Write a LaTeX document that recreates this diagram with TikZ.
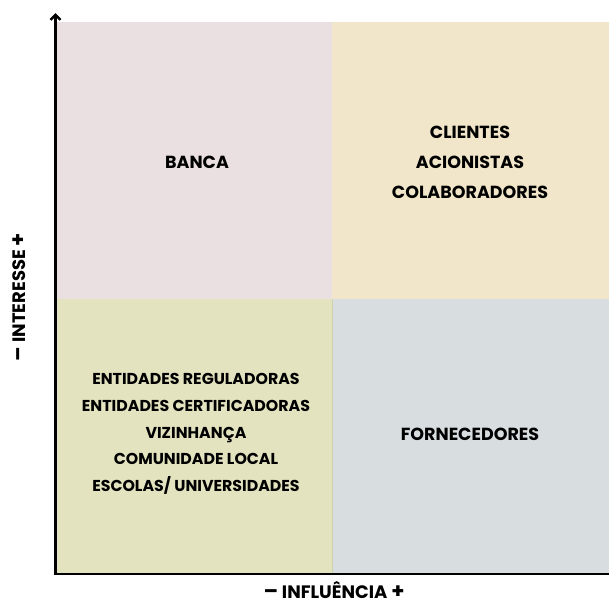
\documentclass[tikz,border=0pt]{standalone}
\usepackage{fontspec}
\setmainfont{Poppins}
\usetikzlibrary{arrows.meta}
\definecolor{qpink}{RGB}{235,224,225}
\definecolor{qyellow}{RGB}{241,230,201}
\definecolor{qgreen}{RGB}{227,227,191}
\definecolor{qgray}{RGB}{216,221,224}
\definecolor{qline}{RGB}{205,210,170}
\tikzset{
  lbl/.style={font=\fontsize{17.5}{30}\selectfont\bfseries, align=center, text=black, inner sep=0pt},
  lblsmall/.style={font=\fontsize{15.8}{26.8}\selectfont\bfseries, align=center, text=black, inner sep=0pt},
  axis/.style={line width=2.5pt, black},
  axlbl/.style={font=\fontsize{18}{20}\selectfont\bfseries, text=black, inner sep=0pt}
}
\newcommand{\minussign}{{\fontsize{21}{20}\selectfont –}}
\newcommand{\plussign}{{\fontsize{21}{20}\selectfont +}}
\begin{document}
\begin{tikzpicture}[x=1pt,y=-1pt]
\useasboundingbox (0,0) rectangle (609,606);
% quadrants
\fill[qpink] (56,22) rectangle (332,299);
\fill[qyellow] (332,22) rectangle (609,299);
\fill[qgreen] (56,299) rectangle (332,574);
\fill[qgray] (332,299) rectangle (609,574);
\draw[qline, line width=0.8pt] (332.5,299) -- (332.5,573);
% texts
\node[lbl] (banca) at (197,162) {BANCA};
\node[lbl] (tr) at (470,162) {CLIENTES\\ACIONISTAS\\COLABORADORES};
\node[lblsmall] (bl) at (196,434) {ENTIDADES REGULADORAS\\ENTIDADES CERTIFICADORAS\\VIZINHANÇA\\COMUNIDADE LOCAL\\ESCOLAS/ UNIVERSIDADES};
\node[lbl] (br) at (470,434) {FORNECEDORES};
% axes
\coordinate (o) at (55.5,574);
\coordinate (top) at (55.5,13);
\coordinate (right) at (609,574);
\draw[axis, -{Straight Barb[length=5pt,width=10pt]}] (o) -- (top);
\draw[axis] (54,574) -- (right);
% axis labels
\node[axlbl] (xl) at (334,590) {\minussign{} INFLUÊNCIA \plussign};
\node[axlbl, rotate=90] (yl) at (19,297) {\minussign{} INTERESSE \plussign};
\end{tikzpicture}
\end{document}
